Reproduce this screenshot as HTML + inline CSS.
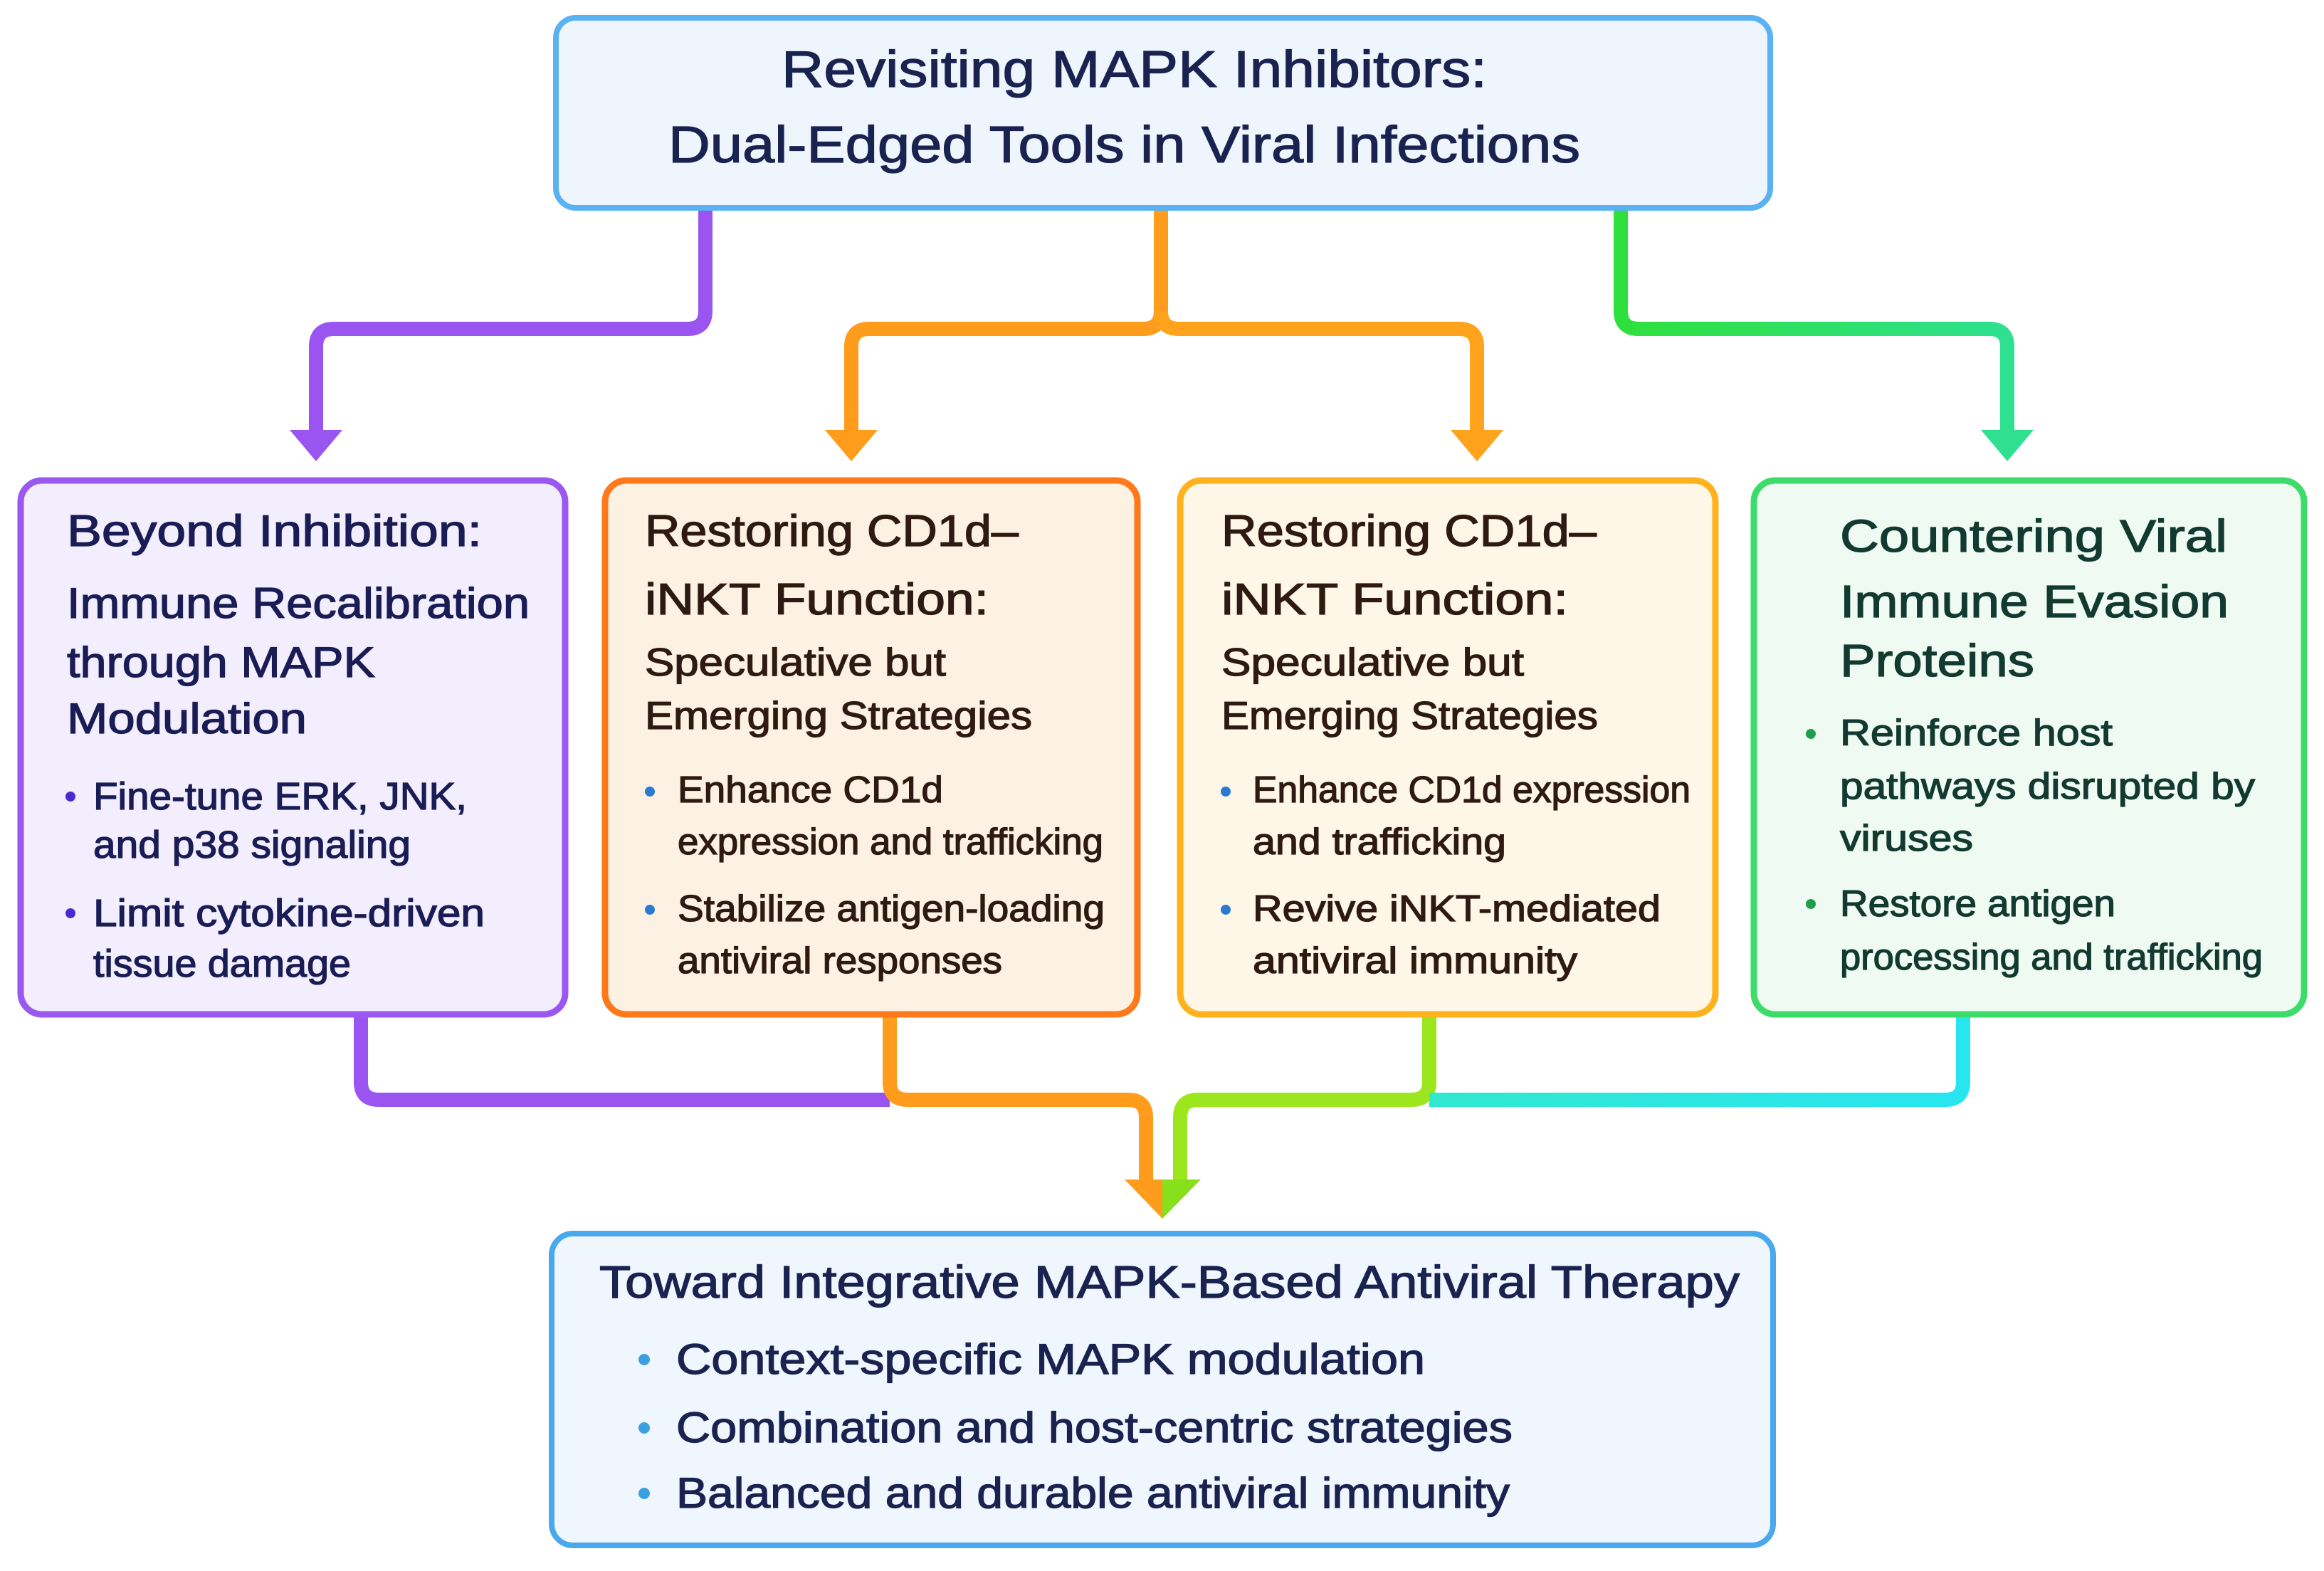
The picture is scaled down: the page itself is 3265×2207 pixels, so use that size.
<!DOCTYPE html>
<html><head><meta charset="utf-8"><style>
html,body{margin:0;padding:0;background:#fff;}
svg{display:block;}
text{font-family:"Liberation Sans",sans-serif;}
</style></head><body>
<svg width="3265" height="2207" viewBox="0 0 3265 2207" xmlns="http://www.w3.org/2000/svg">
<defs>
<linearGradient id="gg" x1="0" x2="1" y1="0" y2="0"><stop offset="0" stop-color="#2ee03c"/><stop offset="1" stop-color="#2ee090"/></linearGradient>
<linearGradient id="gc" x1="0" x2="1" y1="0" y2="0"><stop offset="0" stop-color="#30e8d0"/><stop offset="1" stop-color="#28e6f0"/></linearGradient>
</defs>
<g fill="none" stroke-width="20" stroke-linejoin="round" stroke-linecap="butt">
<path d="M991 296 V437 Q991 462 966 462 H469 Q444 462 444 487 V610" stroke="#9a55f0"/>
<path d="M1631 296 V437 Q1631 462 1606 462 H1221 Q1196 462 1196 487 V610" stroke="#ff9c1c"/>
<path d="M1631 437 Q1631 462 1656 462 H2050 Q2075 462 2075 487 V610" stroke="#ffa21c"/>
<path d="M2277 296 V437 Q2277 462 2302 462 H2795 Q2820 462 2820 487 V610" stroke="url(#gg)"/>
<path d="M507 1429 V1520 Q507 1545 532 1545 H1250" stroke="#9a55f0"/>
<path d="M1250 1429 V1520 Q1250 1545 1275 1545 H1585 Q1610 1545 1610 1570 V1660" stroke="#ff9c1c"/>
<path d="M2008 1429 V1520 Q2008 1545 1983 1545 H1683 Q1658 1545 1658 1570 V1660" stroke="#9be61c"/>
<path d="M2758 1429 V1520 Q2758 1545 2733 1545 H2008" stroke="url(#gc)"/>
</g>
<g stroke="none">
<polygon points="407,604 481,604 444,648" fill="#9a55f0"/>
<polygon points="1159,604 1233,604 1196,648" fill="#ff9c1c"/>
<polygon points="2038,604 2112,604 2075,648" fill="#ffa21c"/>
<polygon points="2783,604 2857,604 2820,648" fill="#2ee090"/>
<polygon points="1580,1657 1633,1657 1633,1712" fill="#ff9c1c"/>
<polygon points="1633,1657 1687,1657 1633,1712" fill="#88e01c"/>
</g>
<rect x="781" y="25" width="1706" height="267" rx="28" fill="#eef5fd" stroke="#5ab2f2" stroke-width="8"/>
<rect x="29" y="675" width="765" height="750" rx="30" fill="#f2eefd" stroke="#9a58f0" stroke-width="9"/>
<rect x="850" y="675" width="748" height="750" rx="30" fill="#fdf1e4" stroke="#ff781a" stroke-width="9"/>
<rect x="1658" y="675" width="752" height="750" rx="30" fill="#fef6e7" stroke="#ffb21e" stroke-width="9"/>
<rect x="2464" y="675" width="773" height="750" rx="30" fill="#effbf2" stroke="#3ddc6a" stroke-width="9"/>
<rect x="775" y="1733" width="1716" height="438" rx="30" fill="#f0f6fd" stroke="#4aa8ec" stroke-width="8"/>
<g stroke-width="1.3">
<g fill="#1a2350" stroke="#1a2350" font-size="72">
<text x="1098" y="122" textLength="991" lengthAdjust="spacingAndGlyphs">Revisiting MAPK Inhibitors:</text>
<text x="939" y="228" textLength="1281" lengthAdjust="spacingAndGlyphs">Dual-Edged Tools in Viral Infections</text>
</g>
<g fill="#1a1d55" stroke="#1a1d55">
<text x="94" y="767" font-size="62" textLength="583" lengthAdjust="spacingAndGlyphs">Beyond Inhibition:</text>
<text x="94" y="868" font-size="60" textLength="650" lengthAdjust="spacingAndGlyphs">Immune Recalibration</text>
<text x="94" y="951" font-size="60" textLength="433" lengthAdjust="spacingAndGlyphs">through MAPK</text>
<text x="94" y="1030" font-size="60" textLength="337" lengthAdjust="spacingAndGlyphs">Modulation</text>
<text x="131" y="1137" font-size="54" textLength="525" lengthAdjust="spacingAndGlyphs">Fine-tune ERK, JNK,</text>
<text x="131" y="1205" font-size="54" textLength="446" lengthAdjust="spacingAndGlyphs">and p38 signaling</text>
<text x="131" y="1301" font-size="54" textLength="550" lengthAdjust="spacingAndGlyphs">Limit cytokine-driven</text>
<text x="131" y="1372" font-size="54" textLength="362" lengthAdjust="spacingAndGlyphs">tissue damage</text>
</g>
<g fill="#2e1a12" stroke="#2e1a12">
<text x="906" y="767" font-size="62" textLength="525" lengthAdjust="spacingAndGlyphs">Restoring CD1d–</text>
<text x="906" y="863" font-size="62" textLength="483" lengthAdjust="spacingAndGlyphs">iNKT Function:</text>
<text x="906" y="949" font-size="55" textLength="423" lengthAdjust="spacingAndGlyphs">Speculative but</text>
<text x="906" y="1024" font-size="55" textLength="544" lengthAdjust="spacingAndGlyphs">Emerging Strategies</text>
<text x="952" y="1127" font-size="52" textLength="373" lengthAdjust="spacingAndGlyphs">Enhance CD1d</text>
<text x="952" y="1200" font-size="52" textLength="598" lengthAdjust="spacingAndGlyphs">expression and trafficking</text>
<text x="952" y="1294" font-size="52" textLength="600" lengthAdjust="spacingAndGlyphs">Stabilize antigen-loading</text>
<text x="952" y="1367" font-size="52" textLength="456" lengthAdjust="spacingAndGlyphs">antiviral responses</text>
<text x="1716" y="767" font-size="62" textLength="527" lengthAdjust="spacingAndGlyphs">Restoring CD1d–</text>
<text x="1716" y="863" font-size="62" textLength="487" lengthAdjust="spacingAndGlyphs">iNKT Function:</text>
<text x="1716" y="949" font-size="55" textLength="425" lengthAdjust="spacingAndGlyphs">Speculative but</text>
<text x="1716" y="1024" font-size="55" textLength="529" lengthAdjust="spacingAndGlyphs">Emerging Strategies</text>
<text x="1760" y="1127" font-size="52" textLength="615" lengthAdjust="spacingAndGlyphs">Enhance CD1d expression</text>
<text x="1760" y="1200" font-size="52" textLength="356" lengthAdjust="spacingAndGlyphs">and trafficking</text>
<text x="1760" y="1294" font-size="52" textLength="573" lengthAdjust="spacingAndGlyphs">Revive iNKT-mediated</text>
<text x="1760" y="1367" font-size="52" textLength="456" lengthAdjust="spacingAndGlyphs">antiviral immunity</text>
</g>
<g fill="#123a30" stroke="#123a30">
<text x="2585" y="775" font-size="64" textLength="544" lengthAdjust="spacingAndGlyphs">Countering Viral</text>
<text x="2585" y="867" font-size="64" textLength="546" lengthAdjust="spacingAndGlyphs">Immune Evasion</text>
<text x="2585" y="950" font-size="64" textLength="273" lengthAdjust="spacingAndGlyphs">Proteins</text>
<text x="2585" y="1047" font-size="52" textLength="383" lengthAdjust="spacingAndGlyphs">Reinforce host</text>
<text x="2585" y="1122" font-size="52" textLength="583" lengthAdjust="spacingAndGlyphs">pathways disrupted by</text>
<text x="2585" y="1195" font-size="52" textLength="187" lengthAdjust="spacingAndGlyphs">viruses</text>
<text x="2585" y="1287" font-size="52" textLength="387" lengthAdjust="spacingAndGlyphs">Restore antigen</text>
<text x="2585" y="1362" font-size="52" textLength="594" lengthAdjust="spacingAndGlyphs">processing and trafficking</text>
</g>
<g fill="#1a2350" stroke="#1a2350">
<text x="842" y="1823" font-size="64" textLength="1602" lengthAdjust="spacingAndGlyphs">Toward Integrative MAPK-Based Antiviral Therapy</text>
<text x="950" y="1930" font-size="60" textLength="1052" lengthAdjust="spacingAndGlyphs">Context-specific MAPK modulation</text>
<text x="950" y="2026" font-size="60" textLength="1175" lengthAdjust="spacingAndGlyphs">Combination and host-centric strategies</text>
<text x="950" y="2118" font-size="60" textLength="1171" lengthAdjust="spacingAndGlyphs">Balanced and durable antiviral immunity</text>
</g>
</g>
<circle cx="99" cy="1119" r="7" fill="#4a2ad0"/><circle cx="99" cy="1283" r="7" fill="#4a2ad0"/>
<circle cx="913" cy="1112" r="7" fill="#2a7ad0"/><circle cx="913" cy="1278" r="7" fill="#2a7ad0"/>
<circle cx="1722" cy="1112" r="7" fill="#2a7ad0"/><circle cx="1722" cy="1278" r="7" fill="#2a7ad0"/>
<circle cx="2544" cy="1031" r="7" fill="#1e9e4a"/><circle cx="2544" cy="1270" r="7" fill="#1e9e4a"/>
<circle cx="905" cy="1910" r="8" fill="#3aa0e0"/><circle cx="905" cy="2006" r="8" fill="#3aa0e0"/><circle cx="905" cy="2098" r="8" fill="#3aa0e0"/>
</svg>
</body></html>
